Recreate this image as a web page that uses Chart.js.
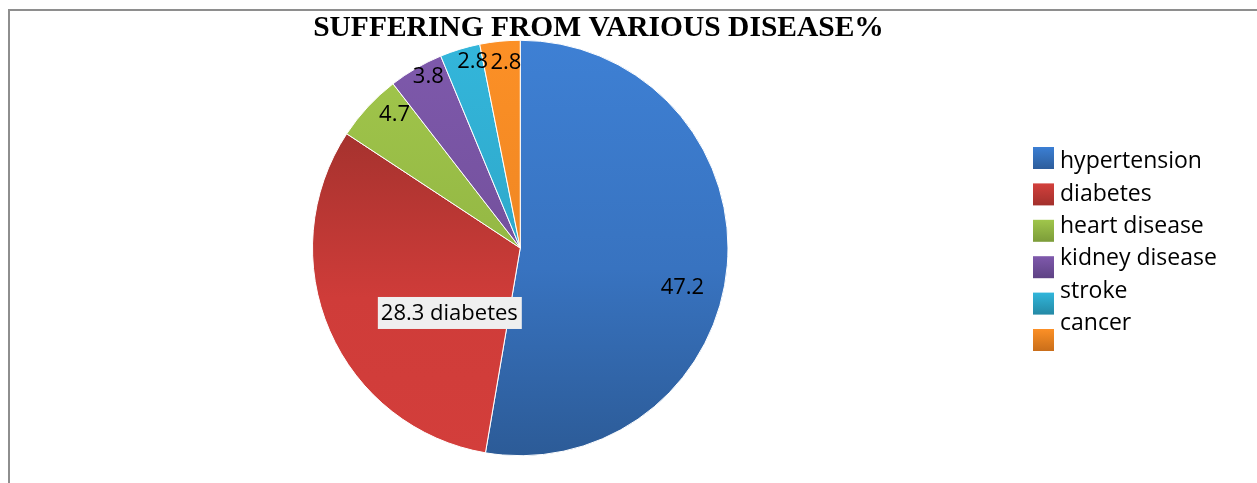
<!DOCTYPE html>
<html>
<head>
<meta charset="utf-8">
<title>Suffering from various disease %</title>
<script src="https://cdn.jsdelivr.net/npm/chart.js@4/dist/chart.umd.min.js"></script>
<style>
  html, body { margin: 0; padding: 0; background: #ffffff; overflow: hidden; }
  #wrap { position: relative; width: 1257px; height: 483px; }
  canvas { display: block; }
</style>
</head>
<body>
<div id="wrap"><canvas id="pie" width="1257" height="483"></canvas></div>
<script>
// ---- data ----
const chartTitle = 'SUFFERING FROM VARIOUS DISEASE%';
const diseases = ['hypertension', 'diabetes', 'heart disease', 'kidney disease', 'stroke', 'cancer'];
const percentages = [47.2, 28.3, 4.7, 3.8, 2.8, 2.8];

// ---- styling ----
// gradient stops for each slice, as fractions of the plot height
const sliceStops = [
  [[0, '#3E80D4'], [0.55, '#3873C0'], [1, '#2C5B97']],
  [[0.22, '#A5322E'], [0.62, '#CF3C39'], [1, '#D33E3B']],
  [[0, '#A2C74C'], [0.5, '#94B844']],
  [[0, '#7E59AC'], [0.5, '#74519D']],
  [[0, '#33B6DB'], [0.5, '#2FA9CB']],
  [[0, '#FC9026'], [0.5, '#F08723']]
];
// legend swatches: light top, dark bottom
const swatchStops = [
  ['#3B7FD4', '#2D5D9B'],
  ['#D3403C', '#A2302C'],
  ['#A0C64B', '#7C9C39'],
  ['#7F59AC', '#5E4284'],
  ['#31B6DB', '#2489A5'],
  ['#FC9026', '#C96E1A']
];
// label placement inside each slice: fraction along the arc, fraction of radius
const labelSpots = [
  [0.546, 0.803], [0.333, 0.463], [0.72, 0.886], [0.63, 0.938], [0.73, 0.928], [0.61, 0.90]
];
const labelFont = '22px "Open Sans"';
const legendFont = '23px "Open Sans"';

function sliceFill(ctx) {
  const chart = ctx.chart;
  const area = chart.chartArea;
  const stops = sliceStops[ctx.dataIndex];
  if (!area) return stops[0][1];
  const g = chart.ctx.createLinearGradient(0, area.top, 0, area.bottom);
  stops.forEach(s => g.addColorStop(s[0], s[1]));
  return g;
}

// thin frame along the top and left edges
const framePlugin = {
  id: 'frame',
  beforeDraw(chart) {
    const c = chart.ctx;
    c.save();
    c.strokeStyle = '#8E8E8E';
    c.lineWidth = 2;
    c.beginPath();
    c.moveTo(chart.width, 10);
    c.lineTo(9, 10);
    c.lineTo(9, chart.height);
    c.stroke();
    c.restore();
  }
};

const titlePlugin = {
  id: 'bigTitle',
  afterDraw(chart) {
    const c = chart.ctx;
    c.save();
    c.font = 'bold 29.5px "Liberation Serif"';
    c.fillStyle = '#000000';
    c.textAlign = 'center';
    c.textBaseline = 'alphabetic';
    c.fillText(chartTitle, 598.5, 35.5);
    c.restore();
  }
};

const sliceLabelPlugin = {
  id: 'sliceLabels',
  afterDatasetsDraw(chart) {
    const c = chart.ctx;
    const meta = chart.getDatasetMeta(0);
    c.save();
    c.font = labelFont;
    c.textAlign = 'center';
    c.textBaseline = 'middle';
    meta.data.forEach((arc, i) => {
      const p = arc.getProps(['x', 'y', 'startAngle', 'endAngle', 'outerRadius'], true);
      const a = p.startAngle + labelSpots[i][0] * (p.endAngle - p.startAngle);
      const r = labelSpots[i][1] * p.outerRadius;
      const x = p.x + Math.cos(a) * r;
      const y = p.y + Math.sin(a) * r;
      let text = String(chart.data.datasets[0].data[i]);
      if (i === 1) {
        text += ' ' + chart.data.labels[i];
        const w = c.measureText(text).width;
        c.fillStyle = '#EFEFEF';
        c.fillRect(x - w / 2 - 3, y - 16, w + 7, 32);
      }
      c.fillStyle = '#000000';
      c.fillText(text, x, y + 1);
    });
    c.restore();
  }
};

const legendPlugin = {
  id: 'sideLegend',
  afterDraw(chart) {
    const c = chart.ctx;
    c.save();
    c.font = legendFont;
    c.textBaseline = 'alphabetic';
    c.textAlign = 'left';
    chart.data.labels.forEach((name, i) => {
      const top = 147 + i * 36.4;
      const g = c.createLinearGradient(0, top, 0, top + 22);
      g.addColorStop(0, swatchStops[i][0]);
      g.addColorStop(1, swatchStops[i][1]);
      c.fillStyle = g;
      c.fillRect(1033, top, 21, 22);
      c.fillStyle = '#000000';
      c.fillText(name, 1060, 168.3 + i * 32.35);
    });
    c.restore();
  }
};

new Chart(document.getElementById('pie'), {
  type: 'pie',
  data: {
    labels: diseases,
    datasets: [{
      data: percentages,
      backgroundColor: sliceFill,
      borderColor: '#FFFFFF',
      borderWidth: 1
    }]
  },
  options: {
    responsive: false,
    devicePixelRatio: 1,
    animation: false,
    layout: { padding: { left: 312, right: 528.5, top: 39.5, bottom: 26.5 } },
    plugins: {
      legend: { display: false },
      title: { display: false },
      tooltip: { enabled: false }
    }
  },
  plugins: [framePlugin, sliceLabelPlugin, titlePlugin, legendPlugin]
});
</script>
</body>
</html>
